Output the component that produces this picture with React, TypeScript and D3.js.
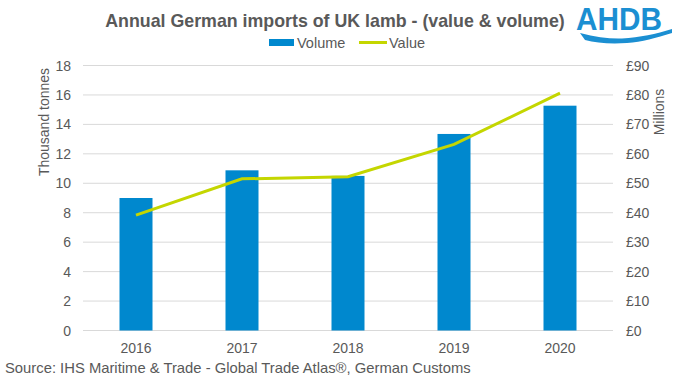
import React from "react";
import * as d3 from "d3";

const years = ["2016", "2017", "2018", "2019", "2020"];
const volume = [9.0, 10.88, 10.5, 13.35, 15.27];
const value = [39.2, 51.5, 52.2, 63.2, 80.6];
const leftTicks = [0, 2, 4, 6, 8, 10, 12, 14, 16, 18];
const rightTicks = [0, 10, 20, 30, 40, 50, 60, 70, 80, 90];

export default function App() {
  const W = 673, H = 378;
  const x0 = 83, x1 = 613, yTop = 65.5, yBot = 330.5;
  const x = d3.scaleBand().domain(years).range([x0, x1]).paddingInner(0).paddingOuter(0);
  const yL = d3.scaleLinear().domain([0, 18]).range([yBot, yTop]);
  const yR = d3.scaleLinear().domain([0, 90]).range([yBot, yTop]);
  const bw = 33;
  const cx = (d: string) => (x(d) as number) + x.bandwidth() / 2;
  const line = d3.line<number>().x((_, i) => cx(years[i])).y((d) => yR(d));
  const font = "'Liberation Sans', Arial, sans-serif";
  const grey = "#595959";
  return (
    <svg width={W} height={H} style={{ position: "absolute", left: 0, top: 0, fontFamily: font }}>
      <rect width={W} height={H} fill="#fff" />
      <text x={335} y={26.5} textAnchor="middle" fontSize={17.8} fontWeight="bold" fill={grey}>
        Annual German imports of UK lamb - (value &amp; volume)
      </text>
      {/* legend */}
      <rect x={269} y={39} width={25} height={7} fill="#0088CE" />
      <text x={297} y={47.5} fontSize={14.5} fill={grey}>Volume</text>
      <line x1={359} x2={387} y1={42.5} y2={42.5} stroke="#C4D600" strokeWidth={3} />
      <text x={389} y={47.5} fontSize={14.5} fill={grey}>Value</text>
      {/* logo */}
      <text x={576} y={29.5} fontSize={31} fontWeight="bold" fill="#1B8FD2" textLength={86} lengthAdjust="spacingAndGlyphs">AHDB</text>
      <path d="M580,33 C596,37 610,39 622,38.5 C640,37.5 656,34 672,29 L672,33 C656,38 642,42 627,43 C610,44 596,43 585,40 Z" fill="#1B8FD2" />
      {/* grid */}
      {leftTicks.map((t) => (
        <line key={t} x1={x0} x2={x1} y1={yL(t)} y2={yL(t)} stroke="#D9D9D9" strokeWidth={1} />
      ))}
      {leftTicks.map((t) => (
        <text key={"l" + t} x={71} y={yL(t) + 5} textAnchor="end" fontSize={14} fill={grey}>{t}</text>
      ))}
      {rightTicks.map((t) => (
        <text key={"r" + t} x={626} y={yR(t) + 5} textAnchor="start" fontSize={14} fill={grey}>£{t}</text>
      ))}
      <text transform={`translate(49,122) rotate(-90)`} textAnchor="middle" fontSize={14} fill={grey}>Thousand tonnes</text>
      <text transform={`translate(664,112) rotate(-90)`} textAnchor="middle" fontSize={14} fill={grey}>Millions</text>
      {years.map((yr, i) => (
        <rect key={yr} x={cx(yr) - bw / 2} y={yL(volume[i])} width={bw} height={yBot - yL(volume[i])} fill="#0088CE" />
      ))}
      <path d={line(value) || ""} fill="none" stroke="#C4D600" strokeWidth={3} />
      {years.map((yr) => (
        <text key={"x" + yr} x={cx(yr)} y={353} textAnchor="middle" fontSize={14} fill={grey}>{yr}</text>
      ))}
      <text x={5} y={373} fontSize={14.8} fill={grey}>Source: IHS Maritime &amp; Trade - Global Trade Atlas®, German Customs</text>
    </svg>
  );
}
